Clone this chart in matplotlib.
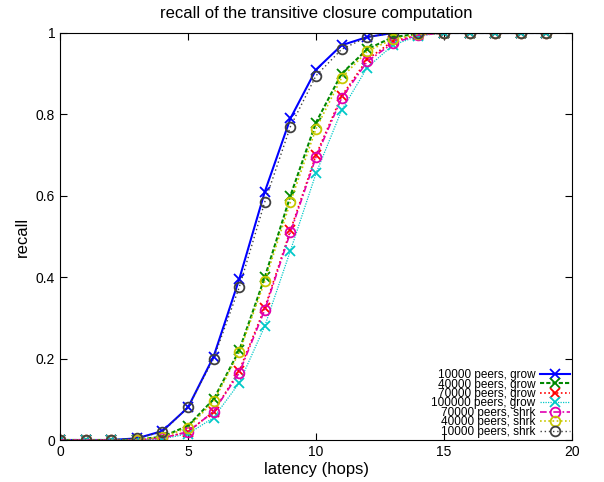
import numpy as np
import matplotlib
matplotlib.use("Agg")
import matplotlib.pyplot as plt

plt.rcParams['font.family'] = ['Liberation Sans', 'DejaVu Sans']

# latency in hops
hops = list(range(20))

grow_10k = [0, 0, 0, 0.004, 0.022, 0.08, 0.205, 0.395, 0.61, 0.79, 0.91, 0.97, 0.99, 1.0, 1, 1, 1, 1, 1, 1]
grow_40k = [0, 0, 0, 0.001, 0.008, 0.035, 0.10, 0.22, 0.40, 0.60, 0.78, 0.90, 0.96, 0.99, 0.998, 1, 1, 1, 1, 1]
grow_70k = [0, 0, 0, 0, 0.005, 0.02, 0.07, 0.17, 0.325, 0.515, 0.70, 0.845, 0.935, 0.98, 0.995, 1, 1, 1, 1, 1]
grow_100k = [0, 0, 0, 0, 0.003, 0.015, 0.055, 0.14, 0.28, 0.465, 0.655, 0.81, 0.915, 0.97, 0.993, 1, 1, 1, 1, 1]
shrk_70k = [0, 0, 0, 0, 0.005, 0.02, 0.07, 0.165, 0.32, 0.51, 0.695, 0.84, 0.93, 0.975, 0.995, 1, 1, 1, 1, 1]
shrk_40k = [0, 0, 0, 0.001, 0.007, 0.03, 0.095, 0.215, 0.39, 0.585, 0.765, 0.89, 0.955, 0.985, 0.997, 1, 1, 1, 1, 1]
shrk_10k = [0, 0, 0, 0.004, 0.02, 0.08, 0.20, 0.375, 0.585, 0.77, 0.895, 0.96, 0.99, 1.0, 1, 1, 1, 1, 1, 1]

labels = ['10000 peers, grow', '40000 peers, grow', '70000 peers, grow',
          '100000 peers, grow', '70000 peers, shrk', '40000 peers, shrk',
          '10000 peers, shrk']
series = [grow_10k, grow_40k, grow_70k, grow_100k, shrk_70k, shrk_40k, shrk_10k]

colors = ['#0000ff', '#008800', '#ff0000', '#00c8c8', '#e000b0', '#c8c800', '#404040']
styles = ['-', (0, (2, 1)), (0, (1, 1.5)), (0, (1, 1)), (0, (4, 1.5, 1, 1.5)), (0, (1, 1.5)), (0, (1, 2))]
markers = ['x', 'x', 'x', 'x', 'o', 'o', 'o']
widths = [1.5, 1.5, 1.2, 0.9, 1.2, 1.2, 1.0]

fig = plt.figure(figsize=(6.04, 4.82), dpi=100)
ax = fig.add_axes([60/604, 1 - 440/482, 512/604, 407/482])

for y, lab, c, ls, m, lw in zip(series, labels, colors, styles, markers, widths):
    ax.plot(hops, y, color=c, linestyle=ls, linewidth=lw, marker=m,
            markersize=7, markeredgewidth=1.3, markerfacecolor='none', label=lab)

ax.set_xlim(0, 20)
ax.set_ylim(0, 1)
ax.set_xticks([0, 5, 10, 15, 20])
ax.set_yticks([0, 0.2, 0.4, 0.6, 0.8, 1])
ax.set_yticklabels(['0', '0.2', '0.4', '0.6', '0.8', '1'])
ax.tick_params(direction='in', top=True, right=True, labelsize=10, length=5)
ax.set_xlabel('latency (hops)', fontsize=12, labelpad=2)
ax.set_ylabel('recall', fontsize=12, labelpad=4)
ax.set_title('recall of the transitive closure computation', fontsize=12, pad=11)

# gnuplot-like key: text right-aligned, sample on the right, rows packed tight
leg = ax.legend(loc='lower right', markerfirst=False, frameon=False, fontsize=8.5,
                labelspacing=-0.22, handlelength=2.5, handletextpad=0.4,
                borderaxespad=0.1, borderpad=0.1)

plt.savefig('out.png', dpi=100)
